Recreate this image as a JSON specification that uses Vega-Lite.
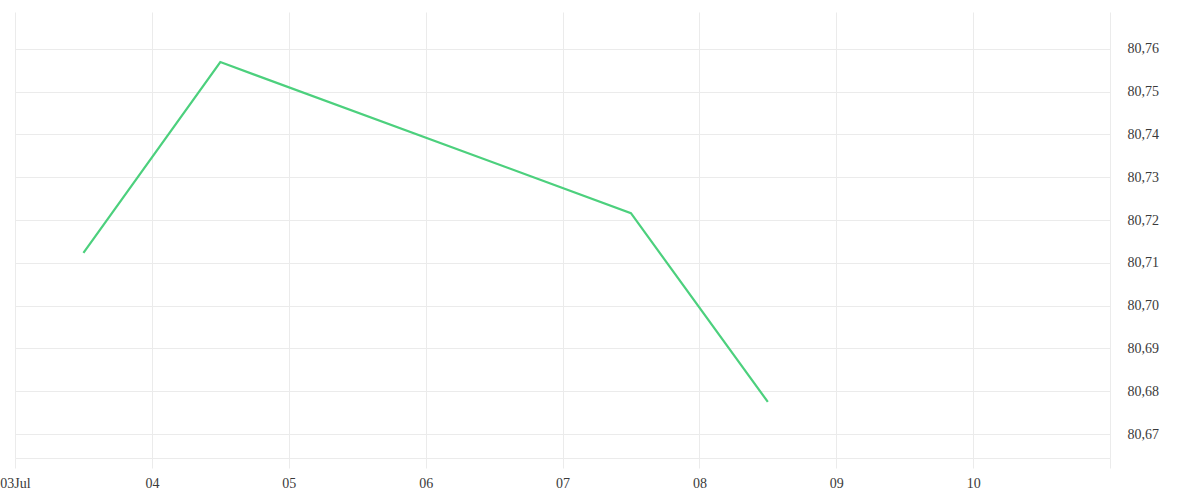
{
  "$schema": "https://vega.github.io/schema/vega-lite/v6.json",
  "width": 1095,
  "height": 446,
  "autosize": {"type": "none"},
  "padding": {"left": 15, "top": 12, "right": 90, "bottom": 42},
  "background": "white",
  "config": {
    "view": {"stroke": null},
    "axis": {"labelFont": "Liberation Serif", "labelFontSize": 14, "labelColor": "#3a3a3a", "gridColor": "#ebebeb", "gridWidth": 1}
  },
  "data": {
    "values": [
      {"time": "2025-07-03T12:00:00", "value": 80.7123},
      {"time": "2025-07-04T12:00:00", "value": 80.7569},
      {"time": "2025-07-07T12:00:00", "value": 80.7216},
      {"time": "2025-07-08T12:00:00", "value": 80.6775}
    ]
  },
  "mark": {"type": "line", "color": "#4cd07d", "strokeWidth": 2.2},
  "encoding": {
    "x": {
      "field": "time",
      "type": "temporal",
      "scale": {"domain": [{"year": 2025, "month": 7, "date": 3}, {"year": 2025, "month": 7, "date": 11}], "nice": false},
      "axis": {
        "title": null,
        "tickCount": {"interval": "day", "step": 1},
        "grid": true,
        "domain": true,
        "domainColor": "#ebebeb",
        "ticks": true,
        "tickColor": "#ebebeb",
        "tickSize": 10,
        "labelPadding": 8,
        "labelFlush": false,
        "labelOverlap": false,
        "labelExpr": "date(datum.value) == 3 ? '03Jul' : (date(datum.value) == 11 ? '' : timeFormat(datum.value, '%d'))"
      }
    },
    "y": {
      "field": "value",
      "type": "quantitative",
      "scale": {"domain": [80.6644, 80.7686], "nice": false, "zero": false},
      "axis": {
        "title": null,
        "orient": "right",
        "values": [80.67, 80.68, 80.69, 80.70, 80.71, 80.72, 80.73, 80.74, 80.75, 80.76],
        "domain": false,
        "ticks": false,
        "labelPadding": 17,
        "labelExpr": "replace(format(datum.value, '.2f'), '.', ',')"
      }
    }
  }
}
